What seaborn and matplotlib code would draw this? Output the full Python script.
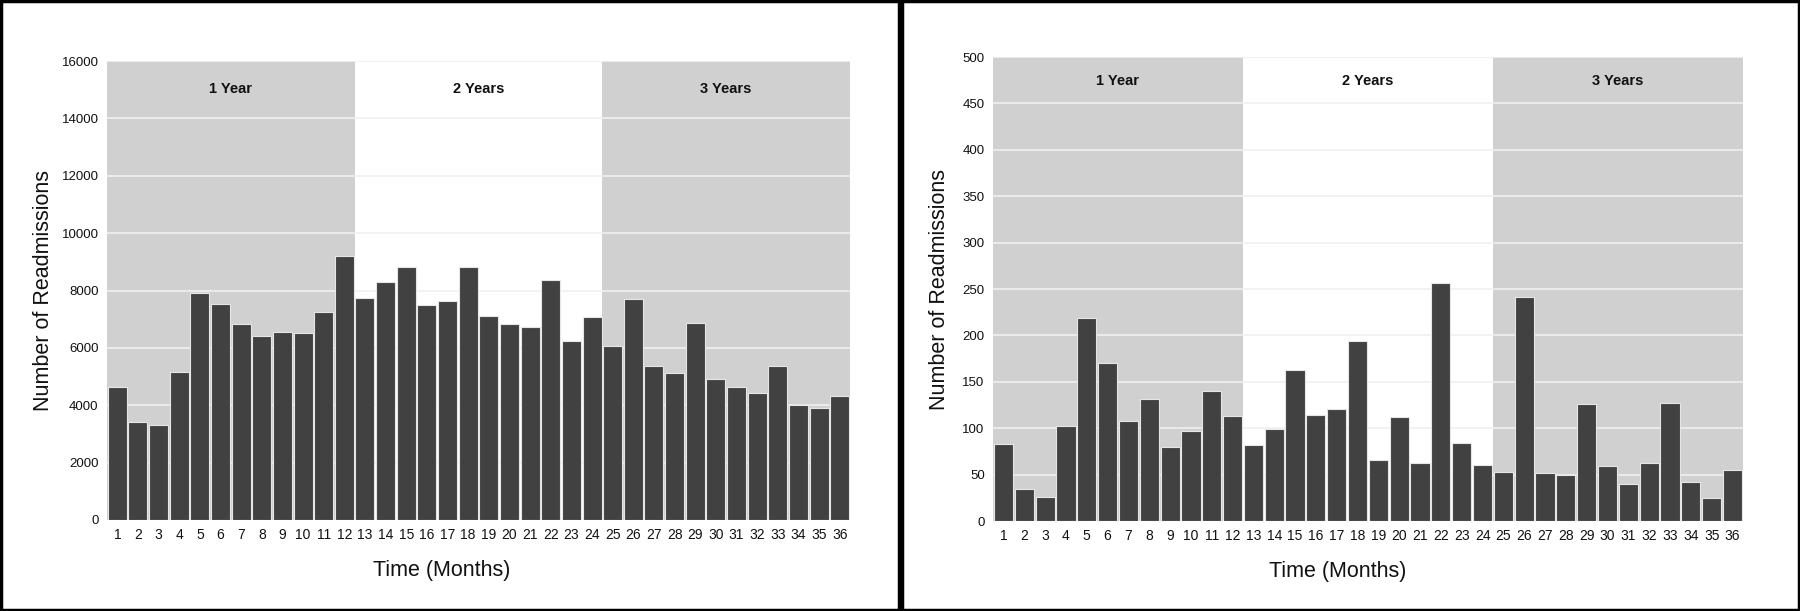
import matplotlib
matplotlib.use("Agg")
import matplotlib.pyplot as plt
import seaborn as sns
import pandas as pd
from matplotlib.patches import Rectangle

months = [str(i) for i in range(1, 37)]
left_values = [4650, 3430, 3300, 5170, 7920, 7545, 6840, 6430, 6550, 6530, 7260, 9200,
               7730, 8290, 8805, 7490, 7640, 8820, 7110, 6825, 6715, 8360, 6240, 7080,
               6050, 7710, 5370, 5140, 6865, 4925, 4650, 4410, 5370, 4000, 3920, 4315]
right_values = [83, 34.5, 25.6, 102.5, 219, 170, 108, 131, 80, 97, 140, 113,
                82, 99, 163, 114, 121, 194, 66, 112, 63, 256, 84, 60.5,
                53, 241, 52, 50, 126, 59, 39.5, 63, 127, 41.6, 25, 55]
band_labels = ["1 Year", "2 Years", "3 Years"]
left_yticks = list(range(0, 16001, 2000))
right_yticks = list(range(0, 501, 50))

sns.set_theme(style="white")
narrow = ["Liberation Sans Narrow", "Liberation Sans", "DejaVu Sans"]
plt.rcParams["font.family"] = ["Liberation Sans", "DejaVu Sans"]

fig = plt.figure(figsize=(18, 6.11), dpi=100)

def draw(ax, values, yticks, label_y, ylab_x, xlab_x, xlab_y):
    df = pd.DataFrame({"month": months, "value": values})
    ymax = yticks[-1]
    ax.set_facecolor("white")
    ax.axvspan(-0.5, 11.5, color="#d0d0d0", zorder=0.1, lw=0)
    ax.axvspan(23.5, 35.5, color="#d0d0d0", zorder=0.1, lw=0)
    for t in yticks[1:]:
        ax.axhline(t, color="#f0f0f0", lw=1.2, zorder=0.3)
    sns.barplot(data=df, x="month", y="value", color="#414141", saturation=1,
                width=0.92, edgecolor="#e6e6e6", linewidth=0.8, ax=ax, zorder=2)
    ax.set_xlim(-0.5, 35.5)
    ax.set_ylim(0, ymax)
    ax.set_yticks(yticks)
    ax.set_yticklabels([str(t) for t in yticks], family=narrow, fontsize=9.5, color="#111111")
    ax.set_xticks(range(36))
    ax.set_xticklabels(months, family=narrow, fontsize=10, color="#111111")
    ax.tick_params(axis="both", length=0, pad=6)
    for s in ax.spines.values():
        s.set_visible(False)
    ax.set_xlabel("Time (Months)", fontsize=15.5, color="#111111")
    ax.set_ylabel("Number of Readmissions", fontsize=15.5, color="#111111")
    ax.yaxis.set_label_coords(ylab_x, 0.5)
    ax.xaxis.set_label_coords(xlab_x, xlab_y)
    ax.xaxis.label.set_va("center")
    ax.yaxis.label.set_va("center")
    for i, lab in enumerate(band_labels):
        ax.text(5.5 + 12 * i, label_y, lab, ha="center", va="center",
                family=narrow, fontsize=10.5, fontweight="bold", color="#111111", zorder=3)

ax1 = fig.add_axes([107 / 1800, 91 / 611, 743 / 1800, 459 / 611])
draw(ax1, left_values, left_yticks, 15020, -0.085, 0.451, -0.111)
ax2 = fig.add_axes([993 / 1800, 90 / 611, 750 / 1800, 464 / 611])
draw(ax2, right_values, right_yticks, 474, -0.0707, 0.459, -0.108)

fig.patches.append(Rectangle((1 / 1800, 1 / 611), 898 / 1800, 609 / 611, transform=fig.transFigure,
                             fill=False, edgecolor="black", lw=2.5))
fig.patches.append(Rectangle((902 / 1800, 1 / 611), 897 / 1800, 609 / 611, transform=fig.transFigure,
                             fill=False, edgecolor="black", lw=2.5))

fig.savefig("out.png", dpi=100, facecolor="white")
